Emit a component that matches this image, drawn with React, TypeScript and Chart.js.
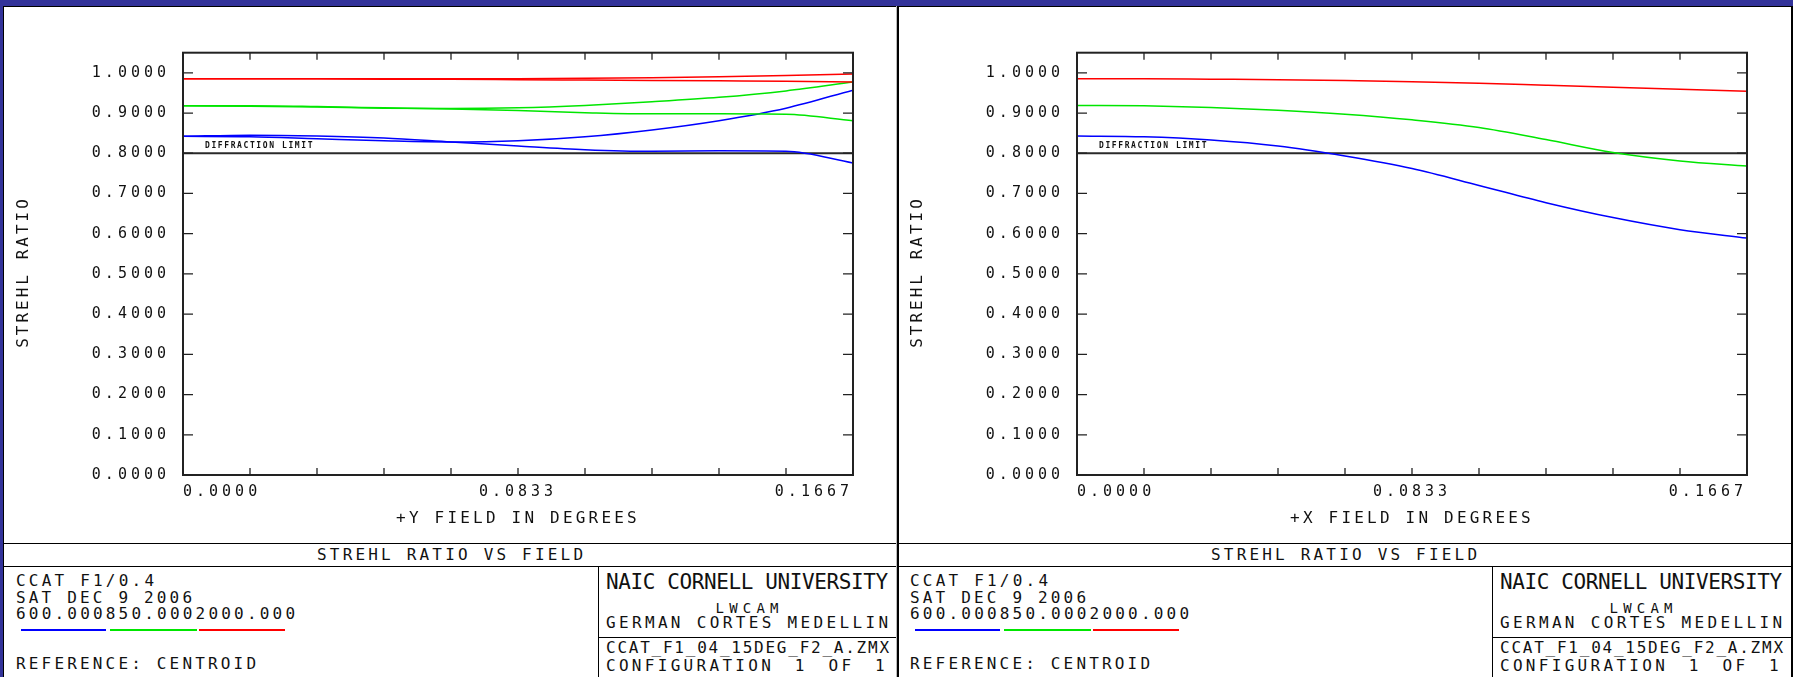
import React, { useEffect, useRef } from 'react';
import { Chart, registerables } from 'chart.js';

Chart.register(...registerables);

const MONO = "'DejaVu Sans Mono', 'Liberation Mono', monospace";

// ---- data -------------------------------------------------------------
const fieldDegrees = [0, 0.016667, 0.033333, 0.05, 0.066667, 0.083333, 0.1, 0.116667, 0.133333, 0.15, 0.166667];
const xTickValues = [0, 0.016667, 0.033333, 0.05, 0.066667, 0.083333, 0.1, 0.116667, 0.133333, 0.15, 0.166667];
const xTickLabels = ['0.0000', '', '', '', '', '0.0833', '', '', '', '', '0.1667'];
const yTickValues = [0, 0.1, 0.2, 0.3, 0.4, 0.5, 0.6, 0.7, 0.8, 0.9, 1.0];
const yTickLabels = ['0.0000', '0.1000', '0.2000', '0.3000', '0.4000', '0.5000', '0.6000', '0.7000', '0.8000', '0.9000', '1.0000'];
const diffractionLimit = 0.8;

// +Y field (left plot), tangential / sagittal
const yFieldRedT = [0.985, 0.985, 0.985, 0.985, 0.985, 0.9855, 0.9865, 0.988, 0.99, 0.993, 0.997];
const yFieldRedS = [0.985, 0.985, 0.985, 0.984, 0.984, 0.983, 0.982, 0.981, 0.98, 0.979, 0.977];
const yFieldGreenT = [0.918, 0.917, 0.915, 0.912, 0.911, 0.913, 0.919, 0.928, 0.939, 0.955, 0.977];
const yFieldGreenS = [0.918, 0.918, 0.916, 0.913, 0.91, 0.906, 0.901, 0.898, 0.898, 0.897, 0.881];
const yFieldBlueT = [0.842, 0.841, 0.836, 0.831, 0.828, 0.831, 0.841, 0.858, 0.881, 0.912, 0.957];
const yFieldBlueS = [0.842, 0.845, 0.843, 0.838, 0.828, 0.818, 0.809, 0.805, 0.806, 0.805, 0.776];

// +X field (right plot)
const xFieldRed = [0.985, 0.985, 0.984, 0.983, 0.981, 0.978, 0.974, 0.969, 0.964, 0.959, 0.954];
const xFieldGreen = [0.919, 0.918, 0.914, 0.907, 0.897, 0.883, 0.864, 0.834, 0.802, 0.781, 0.768];
const xFieldBlue = [0.843, 0.841, 0.833, 0.818, 0.793, 0.762, 0.72, 0.677, 0.64, 0.61, 0.589];

const BLUE = '#0000ff';
const GREEN = '#00e600';
const RED = '#ff0000';

// ---- chart helpers ----------------------------------------------------
const series = (vals: number[]) => fieldDegrees.map((x, i) => ({ x, y: vals[i] }));

const curve = (vals: number[], color: string) => ({
  data: series(vals),
  borderColor: color,
  borderWidth: 1.5,
  pointRadius: 0,
  cubicInterpolationMode: 'monotone' as const,
  fill: false,
});

const framePlugin = {
  id: 'zframe',
  beforeDraw(chart: any) {
    chart.ctx.letterSpacing = '4px';
  },
  afterDraw(chart: any, _args: any, opts: any) {
    const { ctx, chartArea: a } = chart;
    const x = chart.scales.x;
    const y = chart.scales.y;
    ctx.save();
    ctx.strokeStyle = '#222';
    ctx.lineWidth = 2;
    ctx.strokeRect(a.left, a.top, a.right - a.left, a.bottom - a.top);
    ctx.lineWidth = 1.3;
    ctx.beginPath();
    x.ticks.forEach((t: any) => {
      const px = x.getPixelForValue(t.value);
      ctx.moveTo(px, a.top);
      ctx.lineTo(px, a.top + 7);
      ctx.moveTo(px, a.bottom);
      ctx.lineTo(px, a.bottom - 7);
    });
    y.ticks.forEach((t: any) => {
      const py = y.getPixelForValue(t.value);
      ctx.moveTo(a.left, py);
      ctx.lineTo(a.left + 10, py);
      ctx.moveTo(a.right, py);
      ctx.lineTo(a.right - 10, py);
    });
    ctx.stroke();

    ctx.fillStyle = '#111';
    ctx.font = `16px ${MONO}`;
    ctx.letterSpacing = '3.2px';
    ctx.textAlign = 'center';
    ctx.textBaseline = 'alphabetic';
    ctx.fillText(opts.xTitle, (a.left + a.right) / 2, 516.3);

    ctx.save();
    ctx.translate(17.8, 265);
    ctx.rotate(-Math.PI / 2);
    ctx.letterSpacing = '3.0px';
    ctx.fillText(opts.yTitle, 0, 5.8);
    ctx.restore();

    ctx.font = `bold 8px ${MONO}`;
    ctx.letterSpacing = '1.6px';
    ctx.textAlign = 'left';
    ctx.fillText('DIFFRACTION LIMIT', a.left + 22, y.getPixelForValue(diffractionLimit) - 5);
    ctx.restore();
  },
};

function makeConfig(curves: any[], xTitle: string): any {
  const tickFont = { family: MONO, size: 15 };
  return {
    type: 'line',
    data: {
      datasets: [
        ...curves,
        {
          data: [{ x: 0, y: diffractionLimit }, { x: 0.166667, y: diffractionLimit }],
          borderColor: '#2a2a2a',
          borderWidth: 2,
          pointRadius: 0,
          fill: false,
        },
      ],
    },
    options: {
      responsive: false,
      animation: false,
      events: [],
      layout: { padding: { left: 0, right: 43, top: 45.7, bottom: 0 } },
      plugins: {
        legend: { display: false },
        tooltip: { enabled: false },
        zframe: { xTitle, yTitle: 'STREHL RATIO' },
      },
      scales: {
        x: {
          type: 'linear',
          min: 0,
          max: 0.166667,
          afterBuildTicks: (s: any) => {
            s.ticks = xTickValues.map((v) => ({ value: v }));
          },
          afterFit: (s: any) => {
            s.height = 68;
          },
          grid: { display: false },
          border: { display: false },
          ticks: {
            autoSkip: false,
            maxRotation: 0,
            minRotation: 0,
            align: 'inner',
            padding: 0,
            color: '#111',
            font: tickFont,
            callback: (_v: any, i: number) => xTickLabels[i],
          },
        },
        y: {
          type: 'linear',
          min: 0,
          max: 1.05,
          afterBuildTicks: (s: any) => {
            s.ticks = yTickValues.map((v) => ({ value: v }));
          },
          afterFit: (s: any) => {
            s.width = 179;
          },
          grid: { display: false },
          border: { display: false },
          ticks: {
            padding: 5,
            color: '#111',
            font: tickFont,
            callback: (_v: any, i: number) => yTickLabels[i],
          },
        },
      },
    },
    plugins: [framePlugin],
  };
}

function Plot({ left, curves, xTitle }: { left: number; curves: any[]; xTitle: string }) {
  const ref = useRef<HTMLCanvasElement | null>(null);
  useEffect(() => {
    if (!ref.current) return;
    const chart = new Chart(ref.current, makeConfig(curves, xTitle));
    return () => chart.destroy();
  }, []);
  return (
    <canvas
      ref={ref}
      width={892}
      height={536}
      style={{ position: 'absolute', left, top: 7, width: 892, height: 536 }}
    />
  );
}

// ---- text helpers -----------------------------------------------------
function Label({
  x, y, size, text, span, align = 'left', ls: lsFixed,
}: { x: number; y: number; size: number; text: string; span?: number; align?: 'left' | 'center' | 'justify'; ls?: number }) {
  const adv = 0.602 * size;
  const n = text.length;
  const ls = lsFixed !== undefined ? lsFixed : span !== undefined ? (span - adv * n) / (n - 1) : 0;
  const base: React.CSSProperties = {
    position: 'absolute',
    top: y - 0.48 * size,
    fontFamily: MONO,
    fontSize: size,
    lineHeight: `${size}px`,
    letterSpacing: `${ls}px`,
    whiteSpace: 'pre',
    color: '#111',
  };
  if (align === 'center') {
    const w = n * (adv + ls);
    return <div style={{ ...base, left: x - (w - ls) / 2 }}>{text}</div>;
  }
  if (align === 'justify') {
    return (
      <div style={{ ...base, left: x, width: span, whiteSpace: 'normal', textAlign: 'justify', textAlignLast: 'justify' as any }}>
        {text}
      </div>
    );
  }
  return <div style={{ ...base, left: x }}>{text}</div>;
}

const Line = ({ l, t, w, h, c = '#000' }: { l: number; t: number; w: number; h: number; c?: string }) => (
  <div style={{ position: 'absolute', left: l, top: t, width: w, height: h, background: c }} />
);

function TitleBlock({ o, right }: { o: number; right: number }) {
  const pl = o + 4;
  return (
    <>
      <Line l={pl} t={543} w={right - pl} h={1} />
      <Line l={pl} t={566} w={right - pl} h={1} />
      <Line l={o + 598} t={566} w={1} h={111} />
      <Line l={o + 598} t={637} w={right - (o + 598)} h={1} />
      <Label x={o + 450} y={555} size={16} text="STREHL RATIO VS FIELD" span={266} align="center" />
      <Label x={o + 16} y={581} size={16} text="CCAT F1/0.4" span={138} />
      <Label x={o + 16} y={597.5} size={16} text="SAT DEC 9 2006" span={176} />
      <Label x={o + 16} y={613.5} size={16} text="600.000850.0002000.000" span={279} />
      <Line l={o + 21} t={629} w={85} h={2} c={BLUE} />
      <Line l={o + 110} t={629} w={87} h={2} c={GREEN} />
      <Line l={o + 199} t={629} w={86} h={2} c={RED} />
      <Label x={o + 16} y={664} size={16} text="REFERENCE: CENTROID" span={240} />
      <Label x={o + 606} y={582} size={21} text="NAIC CORNELL UNIVERSITY" span={282} />
      <Label x={o + 747} y={607.5} size={14} text="LWCAM" span={63} align="center" />
      <Label x={o + 606} y={623} size={16} text="GERMAN CORTES MEDELLIN" span={282} />
      <Label x={o + 606} y={648} size={16} text="CCAT_F1_04_15DEG_F2_A.ZMX" span={283} />
      <Label x={o + 606} y={666} size={16} text="CONFIGURATION 1 OF 1" span={282} align="justify" ls={3.3} />
    </>
  );
}

export default function App() {
  const leftCurves = [
    curve(yFieldRedT, RED),
    curve(yFieldRedS, RED),
    curve(yFieldGreenT, GREEN),
    curve(yFieldGreenS, GREEN),
    curve(yFieldBlueT, BLUE),
    curve(yFieldBlueS, BLUE),
  ];
  const rightCurves = [
    curve(xFieldRed, RED),
    curve(xFieldGreen, GREEN),
    curve(xFieldBlue, BLUE),
  ];
  return (
    <div style={{ position: 'fixed', left: 0, top: 0, width: 1793, height: 677, background: '#33339a', overflow: 'hidden' }}>
      <div style={{ position: 'absolute', left: 3, top: 6, width: 1790, height: 671, background: '#fff', borderTop: '1px solid #000', borderLeft: '1px solid #000', boxSizing: 'border-box' }} />
      <Plot left={4} curves={leftCurves} xTitle="+Y FIELD IN DEGREES" />
      <Plot left={898} curves={rightCurves} xTitle="+X FIELD IN DEGREES" />
      <TitleBlock o={0} right={897} />
      <TitleBlock o={894} right={1791} />
      <Line l={896} t={6} w={1} h={671} c="#bbb" />
      <Line l={897} t={6} w={2} h={671} />
      <Line l={1791} t={6} w={2} h={671} />
    </div>
  );
}
